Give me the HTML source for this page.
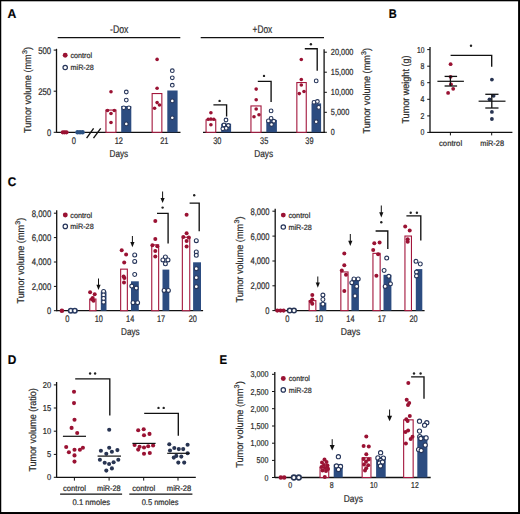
<!DOCTYPE html>
<html><head><meta charset="utf-8"><style>
html,body{margin:0;padding:0;background:#fff;}
svg{display:block;}
text{text-rendering:geometricPrecision;font-family:"Liberation Sans", sans-serif;stroke:#2e2e2e;stroke-width:0.22px;}
</style></head><body>
<svg width="520" height="514" viewBox="0 0 520 514">
<rect x="0" y="0" width="520" height="514" fill="#fff"/>
<text x="7.5" y="17.5" font-size="12.6" fill="#000" font-weight="bold" textLength="8.80" lengthAdjust="spacingAndGlyphs">A</text>
<text x="388.7" y="17.5" font-size="12.6" fill="#000" font-weight="bold" textLength="8.00" lengthAdjust="spacingAndGlyphs">B</text>
<text x="7.8" y="185.5" font-size="12.6" fill="#000" font-weight="bold" textLength="8.50" lengthAdjust="spacingAndGlyphs">C</text>
<text x="7.7" y="363.8" font-size="12.6" fill="#000" font-weight="bold" textLength="8.60" lengthAdjust="spacingAndGlyphs">D</text>
<text x="219.5" y="363.9" font-size="12.6" fill="#000" font-weight="bold" textLength="7.60" lengthAdjust="spacingAndGlyphs">E</text>
<line x1="56.5" y1="48.8" x2="56.5" y2="132.8" stroke="#111" stroke-width="1.3"/>
<line x1="53.7" y1="50.1" x2="56.5" y2="50.1" stroke="#111" stroke-width="1.0"/>
<text x="38.2" y="53.556000000000004" font-size="9.6" fill="#2e2e2e" font-weight="normal" textLength="13.00" lengthAdjust="spacingAndGlyphs">500</text>
<line x1="53.7" y1="91.2" x2="56.5" y2="91.2" stroke="#111" stroke-width="1.0"/>
<text x="38.2" y="94.656" font-size="9.6" fill="#2e2e2e" font-weight="normal" textLength="13.00" lengthAdjust="spacingAndGlyphs">250</text>
<line x1="53.7" y1="132.3" x2="56.5" y2="132.3" stroke="#111" stroke-width="1.0"/>
<text x="47.0" y="135.756" font-size="9.6" fill="#2e2e2e" font-weight="normal" textLength="4.20" lengthAdjust="spacingAndGlyphs">0</text>
<line x1="56.5" y1="132.3" x2="180.5" y2="132.3" stroke="#111" stroke-width="1.3"/>
<line x1="86.6" y1="138.2" x2="93.6" y2="128.4" stroke="#111" stroke-width="1.35"/>
<line x1="93.5" y1="138.2" x2="100.7" y2="128.4" stroke="#111" stroke-width="1.35"/>
<line x1="57.7" y1="37.6" x2="180.3" y2="37.6" stroke="#111" stroke-width="1.3"/>
<text x="110.0" y="33.0" font-size="11.0" fill="#2e2e2e" font-weight="normal" textLength="18.40" lengthAdjust="spacingAndGlyphs">-Dox</text>
<circle cx="65.2" cy="55.3" r="2.45" fill="#9a1233"/>
<circle cx="65.2" cy="67.5" r="2.2" fill="#fff" stroke="#26355a" stroke-width="1.2"/>
<text x="70.5" y="58.071999999999996" font-size="7.7" fill="#2e2e2e" font-weight="normal" textLength="21.50" lengthAdjust="spacingAndGlyphs">control</text>
<text x="70.5" y="70.272" font-size="7.7" fill="#2e2e2e" font-weight="normal" textLength="23.30" lengthAdjust="spacingAndGlyphs">miR-28</text>
<circle cx="62.8" cy="132.3" r="2.15" fill="#9a1233"/>
<circle cx="64.6" cy="132.3" r="2.15" fill="#9a1233"/>
<circle cx="66.5" cy="132.3" r="2.15" fill="#9a1233"/>
<circle cx="77.5" cy="132.3" r="2.2" fill="#2d5282"/>
<circle cx="80.0" cy="132.3" r="2.2" fill="#2d5282"/>
<circle cx="82.6" cy="132.3" r="2.2" fill="#2d5282"/>
<rect x="105.95" y="110.05" width="9.999999999999995" height="22.25000000000001" fill="#fff" stroke="#a3163c" stroke-width="1.1"/>
<rect x="121.2" y="106.0" width="10.100000000000009" height="26.30000000000001" fill="#2c4c80"/>
<circle cx="111" cy="91.8" r="1.8" fill="#9a1233"/>
<circle cx="107.5" cy="110.5" r="1.8" fill="#9a1233"/>
<circle cx="114.3" cy="110.5" r="1.8" fill="#9a1233"/>
<circle cx="111" cy="113.5" r="1.8" fill="#9a1233"/>
<circle cx="111" cy="122.5" r="1.8" fill="#9a1233"/>
<circle cx="126.3" cy="92" r="1.85" fill="#fff" stroke="#26355a" stroke-width="1.1"/>
<circle cx="126.3" cy="100.1" r="1.85" fill="#fff" stroke="#26355a" stroke-width="1.1"/>
<circle cx="123.7" cy="107.8" r="1.85" fill="#fff" stroke="#26355a" stroke-width="1.1"/>
<circle cx="128.9" cy="107.8" r="1.85" fill="#fff" stroke="#26355a" stroke-width="1.1"/>
<circle cx="126.3" cy="123.9" r="1.85" fill="#fff" stroke="#26355a" stroke-width="1.1"/>
<rect x="152.15" y="93.55" width="9.700000000000012" height="38.750000000000014" fill="#fff" stroke="#a3163c" stroke-width="1.1"/>
<rect x="167.3" y="90.5" width="10.299999999999983" height="41.80000000000001" fill="#2c4c80"/>
<circle cx="157.1" cy="59.4" r="1.8" fill="#9a1233"/>
<circle cx="157.1" cy="88.3" r="1.8" fill="#9a1233"/>
<circle cx="157.1" cy="102.6" r="1.8" fill="#9a1233"/>
<circle cx="159.5" cy="105" r="1.8" fill="#9a1233"/>
<circle cx="154.6" cy="108.2" r="1.8" fill="#9a1233"/>
<circle cx="172.3" cy="70.7" r="1.85" fill="#fff" stroke="#26355a" stroke-width="1.1"/>
<circle cx="172.3" cy="77.8" r="1.85" fill="#fff" stroke="#26355a" stroke-width="1.1"/>
<circle cx="172.3" cy="85.2" r="1.85" fill="#fff" stroke="#26355a" stroke-width="1.1"/>
<circle cx="172.3" cy="100.9" r="1.85" fill="#fff" stroke="#26355a" stroke-width="1.1"/>
<circle cx="172.3" cy="117.8" r="1.85" fill="#fff" stroke="#26355a" stroke-width="1.1"/>
<text x="71.7" y="143.756" font-size="9.6" fill="#2e2e2e" font-weight="normal" textLength="4.20" lengthAdjust="spacingAndGlyphs">0</text>
<text x="114.7" y="143.756" font-size="9.6" fill="#2e2e2e" font-weight="normal" textLength="8.20" lengthAdjust="spacingAndGlyphs">12</text>
<text x="160.20000000000002" y="143.756" font-size="9.6" fill="#2e2e2e" font-weight="normal" textLength="8.20" lengthAdjust="spacingAndGlyphs">21</text>
<text x="109.6" y="156.5" font-size="10.0" fill="#2e2e2e" font-weight="normal" textLength="18.60" lengthAdjust="spacingAndGlyphs">Days</text>
<g transform="translate(31.0,133.0) rotate(-90)"><text x="0" y="0" font-size="10.0" fill="#2e2e2e" textLength="78.70" lengthAdjust="spacingAndGlyphs">Tumor volume (mm</text><text x="79.00" y="-3.60" font-size="6.80" fill="#2e2e2e" textLength="3.97" lengthAdjust="spacingAndGlyphs">3</text><text x="83.07" y="0" font-size="10.0" fill="#2e2e2e" textLength="3.13" lengthAdjust="spacingAndGlyphs">)</text></g>
<line x1="203.0" y1="132.3" x2="325.0" y2="132.3" stroke="#111" stroke-width="1.3"/>
<line x1="200.7" y1="37.6" x2="324.0" y2="37.6" stroke="#111" stroke-width="1.3"/>
<text x="252.6" y="33.0" font-size="11.0" fill="#2e2e2e" font-weight="normal" textLength="19.70" lengthAdjust="spacingAndGlyphs">+Dox</text>
<rect x="206.05" y="119.85" width="9.700000000000012" height="12.450000000000014" fill="#fff" stroke="#a3163c" stroke-width="1.1"/>
<rect x="221.2" y="123.7" width="9.900000000000006" height="8.600000000000009" fill="#2c4c80"/>
<circle cx="210.9" cy="112.7" r="1.8" fill="#9a1233"/>
<circle cx="208.2" cy="119.3" r="1.8" fill="#9a1233"/>
<circle cx="213.8" cy="119.3" r="1.8" fill="#9a1233"/>
<circle cx="210.9" cy="119.0" r="1.8" fill="#9a1233"/>
<circle cx="210.9" cy="124.8" r="1.8" fill="#9a1233"/>
<circle cx="226" cy="120" r="1.85" fill="#fff" stroke="#26355a" stroke-width="1.1"/>
<circle cx="224.0" cy="125.0" r="1.85" fill="#fff" stroke="#26355a" stroke-width="1.1"/>
<circle cx="228.3" cy="125.5" r="1.85" fill="#fff" stroke="#26355a" stroke-width="1.1"/>
<circle cx="226.2" cy="128.3" r="1.85" fill="#fff" stroke="#26355a" stroke-width="1.1"/>
<circle cx="222.8" cy="128.8" r="1.85" fill="#fff" stroke="#26355a" stroke-width="1.1"/>
<polyline points="213.4,104.9 226.6,104.9 226.6,116.6" fill="none" stroke="#111" stroke-width="1.35"/>
<circle cx="219.6" cy="100.9" r="1.2" fill="#222"/>
<rect x="250.95000000000002" y="105.95" width="10.100000000000017" height="26.350000000000005" fill="#fff" stroke="#a3163c" stroke-width="1.1"/>
<rect x="266.3" y="119.9" width="10.599999999999966" height="12.400000000000006" fill="#2c4c80"/>
<circle cx="256.2" cy="89.1" r="1.8" fill="#9a1233"/>
<circle cx="256.2" cy="99.7" r="1.8" fill="#9a1233"/>
<circle cx="256.2" cy="109" r="1.8" fill="#9a1233"/>
<circle cx="254" cy="116.8" r="1.8" fill="#9a1233"/>
<circle cx="259" cy="114.7" r="1.8" fill="#9a1233"/>
<circle cx="271.1" cy="110.9" r="1.85" fill="#fff" stroke="#26355a" stroke-width="1.1"/>
<circle cx="271.1" cy="118.3" r="1.85" fill="#fff" stroke="#26355a" stroke-width="1.1"/>
<circle cx="268.4" cy="120.9" r="1.85" fill="#fff" stroke="#26355a" stroke-width="1.1"/>
<circle cx="273.8" cy="121.2" r="1.85" fill="#fff" stroke="#26355a" stroke-width="1.1"/>
<circle cx="271.5" cy="124.5" r="1.85" fill="#fff" stroke="#26355a" stroke-width="1.1"/>
<polyline points="257.8,81.3 271.1,81.3 271.1,102" fill="none" stroke="#111" stroke-width="1.35"/>
<circle cx="264" cy="75.9" r="1.2" fill="#222"/>
<rect x="296.85" y="82.55" width="9.4" height="49.750000000000014" fill="#fff" stroke="#a3163c" stroke-width="1.1"/>
<rect x="311.5" y="103.4" width="9.600000000000023" height="28.900000000000006" fill="#2c4c80"/>
<circle cx="301.3" cy="59.5" r="1.8" fill="#9a1233"/>
<circle cx="301.3" cy="79.5" r="1.8" fill="#9a1233"/>
<circle cx="301.3" cy="85" r="1.8" fill="#9a1233"/>
<circle cx="299.3" cy="93.6" r="1.8" fill="#9a1233"/>
<circle cx="304" cy="91.5" r="1.8" fill="#9a1233"/>
<circle cx="316.2" cy="80.9" r="1.85" fill="#fff" stroke="#26355a" stroke-width="1.1"/>
<circle cx="314.0" cy="102.3" r="1.85" fill="#fff" stroke="#26355a" stroke-width="1.1"/>
<circle cx="317.4" cy="101.5" r="1.85" fill="#fff" stroke="#26355a" stroke-width="1.1"/>
<circle cx="318.7" cy="107.4" r="1.85" fill="#fff" stroke="#26355a" stroke-width="1.1"/>
<circle cx="316.2" cy="121.7" r="1.85" fill="#fff" stroke="#26355a" stroke-width="1.1"/>
<polyline points="304.8,48.7 317.2,48.7 317.2,70.7" fill="none" stroke="#111" stroke-width="1.35"/>
<circle cx="310.9" cy="44.2" r="1.2" fill="#222"/>
<line x1="324.1" y1="49.3" x2="324.1" y2="132.8" stroke="#111" stroke-width="1.3"/>
<line x1="324.1" y1="52.2" x2="326.9" y2="52.2" stroke="#111" stroke-width="1.0"/>
<text x="330.8" y="55.368" font-size="8.8" fill="#2e2e2e" font-weight="normal" textLength="22.60" lengthAdjust="spacingAndGlyphs">20,000</text>
<line x1="324.1" y1="72.2" x2="326.9" y2="72.2" stroke="#111" stroke-width="1.0"/>
<text x="330.8" y="75.36800000000001" font-size="8.8" fill="#2e2e2e" font-weight="normal" textLength="22.60" lengthAdjust="spacingAndGlyphs">15,000</text>
<line x1="324.1" y1="92.3" x2="326.9" y2="92.3" stroke="#111" stroke-width="1.0"/>
<text x="330.8" y="95.468" font-size="8.8" fill="#2e2e2e" font-weight="normal" textLength="22.60" lengthAdjust="spacingAndGlyphs">10,000</text>
<line x1="324.1" y1="112.3" x2="326.9" y2="112.3" stroke="#111" stroke-width="1.0"/>
<text x="330.8" y="115.468" font-size="8.8" fill="#2e2e2e" font-weight="normal" textLength="18.50" lengthAdjust="spacingAndGlyphs">5,000</text>
<line x1="324.1" y1="132.3" x2="326.9" y2="132.3" stroke="#111" stroke-width="1.0"/>
<text x="330.8" y="135.46800000000002" font-size="8.8" fill="#2e2e2e" font-weight="normal" textLength="4.00" lengthAdjust="spacingAndGlyphs">0</text>
<text x="213.20000000000002" y="143.756" font-size="9.6" fill="#2e2e2e" font-weight="normal" textLength="8.20" lengthAdjust="spacingAndGlyphs">30</text>
<text x="260.09999999999997" y="143.756" font-size="9.6" fill="#2e2e2e" font-weight="normal" textLength="8.20" lengthAdjust="spacingAndGlyphs">35</text>
<text x="305.29999999999995" y="143.756" font-size="9.6" fill="#2e2e2e" font-weight="normal" textLength="8.20" lengthAdjust="spacingAndGlyphs">39</text>
<text x="254.2" y="156.5" font-size="10.0" fill="#2e2e2e" font-weight="normal" textLength="18.90" lengthAdjust="spacingAndGlyphs">Days</text>
<g transform="translate(369.8,133.5) rotate(-90)"><text x="0" y="0" font-size="10.0" fill="#2e2e2e" textLength="78.24" lengthAdjust="spacingAndGlyphs">Tumor volume (mm</text><text x="78.54" y="-3.60" font-size="6.80" fill="#2e2e2e" textLength="3.94" lengthAdjust="spacingAndGlyphs">3</text><text x="82.59" y="0" font-size="10.0" fill="#2e2e2e" textLength="3.11" lengthAdjust="spacingAndGlyphs">)</text></g>
<line x1="430.0" y1="47.0" x2="430.0" y2="132.9" stroke="#111" stroke-width="1.3"/>
<line x1="427.2" y1="49.6" x2="430.0" y2="49.6" stroke="#111" stroke-width="1.0"/>
<text x="416.9" y="52.696" font-size="8.6" fill="#2e2e2e" font-weight="normal" textLength="7.50" lengthAdjust="spacingAndGlyphs">10</text>
<line x1="427.2" y1="66.2" x2="430.0" y2="66.2" stroke="#111" stroke-width="1.0"/>
<text x="420.5" y="69.296" font-size="8.6" fill="#2e2e2e" font-weight="normal" textLength="3.90" lengthAdjust="spacingAndGlyphs">8</text>
<line x1="427.2" y1="82.7" x2="430.0" y2="82.7" stroke="#111" stroke-width="1.0"/>
<text x="420.5" y="85.796" font-size="8.6" fill="#2e2e2e" font-weight="normal" textLength="3.90" lengthAdjust="spacingAndGlyphs">6</text>
<line x1="427.2" y1="99.3" x2="430.0" y2="99.3" stroke="#111" stroke-width="1.0"/>
<text x="420.5" y="102.396" font-size="8.6" fill="#2e2e2e" font-weight="normal" textLength="3.90" lengthAdjust="spacingAndGlyphs">4</text>
<line x1="427.2" y1="115.9" x2="430.0" y2="115.9" stroke="#111" stroke-width="1.0"/>
<text x="420.5" y="118.99600000000001" font-size="8.6" fill="#2e2e2e" font-weight="normal" textLength="3.90" lengthAdjust="spacingAndGlyphs">2</text>
<line x1="427.2" y1="132.4" x2="430.0" y2="132.4" stroke="#111" stroke-width="1.0"/>
<text x="420.5" y="135.496" font-size="8.6" fill="#2e2e2e" font-weight="normal" textLength="3.90" lengthAdjust="spacingAndGlyphs">0</text>
<line x1="430.0" y1="132.4" x2="512.4" y2="132.4" stroke="#111" stroke-width="1.3"/>
<line x1="450.4" y1="132.4" x2="450.4" y2="135.4" stroke="#111" stroke-width="1.0"/>
<line x1="491.7" y1="132.4" x2="491.7" y2="135.4" stroke="#111" stroke-width="1.0"/>
<text x="439.0" y="145.9" font-size="8.0" fill="#2e2e2e" font-weight="normal" textLength="23.10" lengthAdjust="spacingAndGlyphs">control</text>
<text x="480.3" y="145.9" font-size="8.0" fill="#2e2e2e" font-weight="normal" textLength="23.70" lengthAdjust="spacingAndGlyphs">miR-28</text>
<g transform="translate(409.2,123.6) rotate(-90)"><text x="0" y="0" font-size="10.0" fill="#2e2e2e" textLength="68.10" lengthAdjust="spacingAndGlyphs">Tumor weight (g)</text></g>
<circle cx="450.6" cy="64.2" r="1.9" fill="#9a1233"/>
<circle cx="450.6" cy="76.8" r="1.9" fill="#9a1233"/>
<circle cx="451" cy="84.3" r="1.9" fill="#9a1233"/>
<circle cx="453.2" cy="88.8" r="1.9" fill="#9a1233"/>
<circle cx="448.1" cy="92.9" r="1.9" fill="#9a1233"/>
<circle cx="491.9" cy="79.6" r="1.9" fill="#283452"/>
<circle cx="493.6" cy="95.8" r="1.9" fill="#283452"/>
<circle cx="489.5" cy="99.3" r="1.9" fill="#283452"/>
<circle cx="491.9" cy="111.9" r="1.9" fill="#283452"/>
<circle cx="491.9" cy="119.0" r="1.9" fill="#283452"/>
<line x1="437.4" y1="81.3" x2="463.9" y2="81.3" stroke="#111" stroke-width="1.2"/>
<line x1="450.4" y1="76.4" x2="450.4" y2="86.0" stroke="#111" stroke-width="1.3"/>
<line x1="444.6" y1="76.4" x2="457.1" y2="76.4" stroke="#111" stroke-width="1.3"/>
<line x1="444.6" y1="86.0" x2="457.1" y2="86.0" stroke="#111" stroke-width="1.3"/>
<line x1="478.6" y1="101.2" x2="505.5" y2="101.2" stroke="#111" stroke-width="1.2"/>
<line x1="491.8" y1="94.3" x2="491.8" y2="108.0" stroke="#111" stroke-width="1.3"/>
<line x1="485.3" y1="94.3" x2="498.5" y2="94.3" stroke="#111" stroke-width="1.3"/>
<line x1="485.3" y1="108.0" x2="498.5" y2="108.0" stroke="#111" stroke-width="1.3"/>
<polyline points="450.6,55.4 491.7,55.4 491.7,66.7" fill="none" stroke="#111" stroke-width="1.35"/>
<circle cx="471" cy="45.8" r="1.2" fill="#222"/>
<line x1="56.7" y1="210.3" x2="56.7" y2="311.2" stroke="#111" stroke-width="1.3"/>
<line x1="53.900000000000006" y1="213.2" x2="56.7" y2="213.2" stroke="#111" stroke-width="1.0"/>
<text x="31.800000000000004" y="216.65599999999998" font-size="9.6" fill="#2e2e2e" font-weight="normal" textLength="19.40" lengthAdjust="spacingAndGlyphs">8,000</text>
<line x1="53.900000000000006" y1="237.6" x2="56.7" y2="237.6" stroke="#111" stroke-width="1.0"/>
<text x="31.800000000000004" y="241.05599999999998" font-size="9.6" fill="#2e2e2e" font-weight="normal" textLength="19.40" lengthAdjust="spacingAndGlyphs">6,000</text>
<line x1="53.900000000000006" y1="262.0" x2="56.7" y2="262.0" stroke="#111" stroke-width="1.0"/>
<text x="31.800000000000004" y="265.456" font-size="9.6" fill="#2e2e2e" font-weight="normal" textLength="19.40" lengthAdjust="spacingAndGlyphs">4,000</text>
<line x1="53.900000000000006" y1="286.4" x2="56.7" y2="286.4" stroke="#111" stroke-width="1.0"/>
<text x="31.800000000000004" y="289.856" font-size="9.6" fill="#2e2e2e" font-weight="normal" textLength="19.40" lengthAdjust="spacingAndGlyphs">2,000</text>
<line x1="53.900000000000006" y1="310.7" x2="56.7" y2="310.7" stroke="#111" stroke-width="1.0"/>
<text x="47.0" y="314.156" font-size="9.6" fill="#2e2e2e" font-weight="normal" textLength="4.20" lengthAdjust="spacingAndGlyphs">0</text>
<line x1="56.7" y1="310.7" x2="203.1" y2="310.7" stroke="#111" stroke-width="1.3"/>
<circle cx="65.3" cy="215.0" r="2.45" fill="#9a1233"/>
<circle cx="65.3" cy="226.4" r="2.2" fill="#fff" stroke="#26355a" stroke-width="1.2"/>
<text x="70.3" y="217.772" font-size="7.7" fill="#2e2e2e" font-weight="normal" textLength="21.80" lengthAdjust="spacingAndGlyphs">control</text>
<text x="70.3" y="229.172" font-size="7.7" fill="#2e2e2e" font-weight="normal" textLength="23.40" lengthAdjust="spacingAndGlyphs">miR-28</text>
<circle cx="61.9" cy="310.7" r="2.3" fill="#9a1233"/>
<circle cx="70.8" cy="310.7" r="2.25" fill="#fff" stroke="#283a62" stroke-width="1.6"/>
<circle cx="74.8" cy="310.7" r="2.25" fill="#fff" stroke="#283a62" stroke-width="1.6"/>
<rect x="89.75" y="299.05" width="6.1999999999999975" height="11.649999999999988" fill="#fff" stroke="#a3163c" stroke-width="1.1"/>
<rect x="100.8" y="291.5" width="5.700000000000003" height="19.19999999999999" fill="#2c4c80"/>
<circle cx="90.1" cy="292.3" r="2.0" fill="#9a1233"/>
<circle cx="94.7" cy="294.3" r="2.0" fill="#9a1233"/>
<circle cx="92.7" cy="298" r="2.0" fill="#9a1233"/>
<circle cx="93.5" cy="300.8" r="2.0" fill="#9a1233"/>
<circle cx="91.9" cy="299.2" r="2.0" fill="#9a1233"/>
<circle cx="103.6" cy="291.5" r="1.95" fill="#fff" stroke="#26355a" stroke-width="1.1"/>
<circle cx="103.6" cy="295.0" r="1.95" fill="#fff" stroke="#26355a" stroke-width="1.1"/>
<circle cx="103.6" cy="298.5" r="1.95" fill="#fff" stroke="#26355a" stroke-width="1.1"/>
<circle cx="103.6" cy="302.2" r="1.95" fill="#fff" stroke="#26355a" stroke-width="1.1"/>
<line x1="98.5" y1="278.5" x2="98.5" y2="285.8" stroke="#111" stroke-width="1.0"/>
<polygon points="96.4,284.8 100.6,284.8 98.5,290.0" fill="#111"/>
<rect x="120.64999999999999" y="269.15000000000003" width="6.700000000000012" height="41.54999999999997" fill="#fff" stroke="#a3163c" stroke-width="1.1"/>
<rect x="131.0" y="281.3" width="7.800000000000011" height="29.399999999999977" fill="#2c4c80"/>
<circle cx="121.7" cy="250.2" r="2.0" fill="#9a1233"/>
<circle cx="126.1" cy="254.6" r="2.0" fill="#9a1233"/>
<circle cx="124.2" cy="262.4" r="2.0" fill="#9a1233"/>
<circle cx="123.6" cy="276.4" r="2.0" fill="#9a1233"/>
<circle cx="124.4" cy="278" r="2.0" fill="#9a1233"/>
<circle cx="124" cy="282.6" r="2.0" fill="#9a1233"/>
<circle cx="134.7" cy="255" r="1.95" fill="#fff" stroke="#26355a" stroke-width="1.1"/>
<circle cx="134.7" cy="261.4" r="1.95" fill="#fff" stroke="#26355a" stroke-width="1.1"/>
<circle cx="134.7" cy="274.5" r="1.95" fill="#fff" stroke="#26355a" stroke-width="1.1"/>
<circle cx="131.8" cy="286.1" r="1.95" fill="#fff" stroke="#26355a" stroke-width="1.1"/>
<circle cx="136.3" cy="288.1" r="1.95" fill="#fff" stroke="#26355a" stroke-width="1.1"/>
<circle cx="133" cy="302.7" r="1.95" fill="#fff" stroke="#26355a" stroke-width="1.1"/>
<circle cx="137.6" cy="302.7" r="1.95" fill="#fff" stroke="#26355a" stroke-width="1.1"/>
<line x1="132.4" y1="236.0" x2="132.4" y2="243.0" stroke="#111" stroke-width="1.0"/>
<polygon points="130.3,242.0 134.5,242.0 132.4,247.2" fill="#111"/>
<rect x="151.75" y="244.85000000000002" width="6.9" height="65.84999999999998" fill="#fff" stroke="#a3163c" stroke-width="1.1"/>
<rect x="162.5" y="269.6" width="6.800000000000011" height="41.099999999999966" fill="#2c4c80"/>
<circle cx="155.3" cy="221" r="2.0" fill="#9a1233"/>
<circle cx="155.3" cy="239.1" r="2.0" fill="#9a1233"/>
<circle cx="152.4" cy="245.3" r="2.0" fill="#9a1233"/>
<circle cx="157.3" cy="246.3" r="2.0" fill="#9a1233"/>
<circle cx="155.3" cy="251.1" r="2.0" fill="#9a1233"/>
<circle cx="155.3" cy="256.4" r="2.0" fill="#9a1233"/>
<circle cx="165.4" cy="257" r="1.95" fill="#fff" stroke="#26355a" stroke-width="1.1"/>
<circle cx="162.9" cy="259.9" r="1.95" fill="#fff" stroke="#26355a" stroke-width="1.1"/>
<circle cx="168" cy="259.9" r="1.95" fill="#fff" stroke="#26355a" stroke-width="1.1"/>
<circle cx="165.4" cy="263.8" r="1.95" fill="#fff" stroke="#26355a" stroke-width="1.1"/>
<circle cx="164.1" cy="290.4" r="1.95" fill="#fff" stroke="#26355a" stroke-width="1.1"/>
<circle cx="168.4" cy="290.4" r="1.95" fill="#fff" stroke="#26355a" stroke-width="1.1"/>
<line x1="162.6" y1="191.5" x2="162.6" y2="198.9" stroke="#111" stroke-width="1.0"/>
<polygon points="160.5,197.9 164.7,197.9 162.6,203.1" fill="#111"/>
<circle cx="162.6" cy="207.6" r="1.2" fill="#222"/>
<polyline points="157,213.3 168.1,213.3 168.1,243.6" fill="none" stroke="#111" stroke-width="1.35"/>
<rect x="182.35000000000002" y="237.25" width="7.4" height="73.45" fill="#fff" stroke="#a3163c" stroke-width="1.1"/>
<rect x="193.1" y="262.3" width="7.900000000000006" height="48.39999999999998" fill="#2c4c80"/>
<circle cx="186.6" cy="214.7" r="2.0" fill="#9a1233"/>
<circle cx="186.6" cy="233.2" r="2.0" fill="#9a1233"/>
<circle cx="183.3" cy="237" r="2.0" fill="#9a1233"/>
<circle cx="188.8" cy="237.5" r="2.0" fill="#9a1233"/>
<circle cx="186.6" cy="241.1" r="2.0" fill="#9a1233"/>
<circle cx="186.6" cy="246.4" r="2.0" fill="#9a1233"/>
<circle cx="196.3" cy="240.7" r="1.95" fill="#fff" stroke="#26355a" stroke-width="1.1"/>
<circle cx="196.3" cy="252" r="1.95" fill="#fff" stroke="#26355a" stroke-width="1.1"/>
<circle cx="196.3" cy="255.3" r="1.95" fill="#fff" stroke="#26355a" stroke-width="1.1"/>
<circle cx="196.3" cy="268.7" r="1.95" fill="#fff" stroke="#26355a" stroke-width="1.1"/>
<circle cx="196.3" cy="277.7" r="1.95" fill="#fff" stroke="#26355a" stroke-width="1.1"/>
<circle cx="196.3" cy="286.7" r="1.95" fill="#fff" stroke="#26355a" stroke-width="1.1"/>
<circle cx="194.2" cy="195.2" r="1.2" fill="#222"/>
<polyline points="189.6,203.1 199.2,203.1 199.2,231.2" fill="none" stroke="#111" stroke-width="1.35"/>
<text x="65.2" y="322.05600000000004" font-size="9.6" fill="#2e2e2e" font-weight="normal" textLength="4.20" lengthAdjust="spacingAndGlyphs">0</text>
<text x="94.7" y="322.05600000000004" font-size="9.6" fill="#2e2e2e" font-weight="normal" textLength="8.20" lengthAdjust="spacingAndGlyphs">10</text>
<text x="126.1" y="322.05600000000004" font-size="9.6" fill="#2e2e2e" font-weight="normal" textLength="8.20" lengthAdjust="spacingAndGlyphs">14</text>
<text x="156.9" y="322.05600000000004" font-size="9.6" fill="#2e2e2e" font-weight="normal" textLength="8.20" lengthAdjust="spacingAndGlyphs">17</text>
<text x="188.70000000000002" y="322.05600000000004" font-size="9.6" fill="#2e2e2e" font-weight="normal" textLength="8.20" lengthAdjust="spacingAndGlyphs">20</text>
<text x="121.0" y="335.3" font-size="10.0" fill="#2e2e2e" font-weight="normal" textLength="18.60" lengthAdjust="spacingAndGlyphs">Days</text>
<g transform="translate(23.8,303.4) rotate(-90)"><text x="0" y="0" font-size="10.0" fill="#2e2e2e" textLength="78.43" lengthAdjust="spacingAndGlyphs">Tumor volume (mm</text><text x="78.73" y="-3.60" font-size="6.80" fill="#2e2e2e" textLength="3.95" lengthAdjust="spacingAndGlyphs">3</text><text x="82.78" y="0" font-size="10.0" fill="#2e2e2e" textLength="3.12" lengthAdjust="spacingAndGlyphs">)</text></g>
<line x1="275.2" y1="208.7" x2="275.2" y2="311.1" stroke="#111" stroke-width="1.3"/>
<line x1="272.4" y1="211.2" x2="275.2" y2="211.2" stroke="#111" stroke-width="1.0"/>
<text x="250.4" y="214.65599999999998" font-size="9.6" fill="#2e2e2e" font-weight="normal" textLength="19.10" lengthAdjust="spacingAndGlyphs">8,000</text>
<line x1="272.4" y1="236.1" x2="275.2" y2="236.1" stroke="#111" stroke-width="1.0"/>
<text x="250.4" y="239.55599999999998" font-size="9.6" fill="#2e2e2e" font-weight="normal" textLength="19.10" lengthAdjust="spacingAndGlyphs">6,000</text>
<line x1="272.4" y1="261.0" x2="275.2" y2="261.0" stroke="#111" stroke-width="1.0"/>
<text x="250.4" y="264.456" font-size="9.6" fill="#2e2e2e" font-weight="normal" textLength="19.10" lengthAdjust="spacingAndGlyphs">4,000</text>
<line x1="272.4" y1="285.8" x2="275.2" y2="285.8" stroke="#111" stroke-width="1.0"/>
<text x="250.4" y="289.25600000000003" font-size="9.6" fill="#2e2e2e" font-weight="normal" textLength="19.10" lengthAdjust="spacingAndGlyphs">2,000</text>
<line x1="272.4" y1="310.6" x2="275.2" y2="310.6" stroke="#111" stroke-width="1.0"/>
<text x="265.3" y="314.05600000000004" font-size="9.6" fill="#2e2e2e" font-weight="normal" textLength="4.20" lengthAdjust="spacingAndGlyphs">0</text>
<line x1="275.2" y1="310.6" x2="424.6" y2="310.6" stroke="#111" stroke-width="1.3"/>
<circle cx="283.3" cy="215.1" r="2.45" fill="#9a1233"/>
<circle cx="283.3" cy="227.0" r="2.2" fill="#fff" stroke="#26355a" stroke-width="1.2"/>
<text x="288.4" y="217.87199999999999" font-size="7.7" fill="#2e2e2e" font-weight="normal" textLength="21.90" lengthAdjust="spacingAndGlyphs">control</text>
<text x="288.4" y="229.772" font-size="7.7" fill="#2e2e2e" font-weight="normal" textLength="23.30" lengthAdjust="spacingAndGlyphs">miR-28</text>
<circle cx="277.3" cy="310.6" r="2.1" fill="#9a1233"/>
<circle cx="280.5" cy="310.6" r="2.1" fill="#9a1233"/>
<circle cx="283.6" cy="310.6" r="2.1" fill="#9a1233"/>
<circle cx="289.7" cy="310.6" r="2.25" fill="#fff" stroke="#283656" stroke-width="1.5"/>
<circle cx="294.0" cy="310.6" r="2.25" fill="#fff" stroke="#283656" stroke-width="1.5"/>
<rect x="309.15000000000003" y="300.65000000000003" width="6.699999999999955" height="9.95" fill="#fff" stroke="#a3163c" stroke-width="1.1"/>
<rect x="319.5" y="302.6" width="6.800000000000011" height="8.0" fill="#2c4c80"/>
<circle cx="312.3" cy="295.1" r="2.0" fill="#9a1233"/>
<circle cx="312.3" cy="299.5" r="2.0" fill="#9a1233"/>
<circle cx="310.8" cy="301.4" r="2.0" fill="#9a1233"/>
<circle cx="312.3" cy="303.7" r="2.0" fill="#9a1233"/>
<circle cx="322.9" cy="295.1" r="1.95" fill="#fff" stroke="#26355a" stroke-width="1.1"/>
<circle cx="322.9" cy="299.5" r="1.95" fill="#fff" stroke="#26355a" stroke-width="1.1"/>
<circle cx="322.9" cy="304.2" r="1.95" fill="#fff" stroke="#26355a" stroke-width="1.1"/>
<line x1="317.8" y1="276.5" x2="317.8" y2="283.6" stroke="#111" stroke-width="1.0"/>
<polygon points="315.7,282.6 319.90000000000003,282.6 317.8,287.8" fill="#111"/>
<rect x="340.85" y="271.95" width="7.200000000000012" height="38.65000000000005" fill="#fff" stroke="#a3163c" stroke-width="1.1"/>
<rect x="351.4" y="279.5" width="7.5" height="31.100000000000023" fill="#2c4c80"/>
<circle cx="344.3" cy="253.4" r="2.0" fill="#9a1233"/>
<circle cx="344.3" cy="265.2" r="2.0" fill="#9a1233"/>
<circle cx="341.8" cy="270.5" r="2.0" fill="#9a1233"/>
<circle cx="346" cy="274.8" r="2.0" fill="#9a1233"/>
<circle cx="344.3" cy="290.9" r="2.0" fill="#9a1233"/>
<circle cx="354" cy="278.9" r="1.95" fill="#fff" stroke="#26355a" stroke-width="1.1"/>
<circle cx="358.2" cy="278.9" r="1.95" fill="#fff" stroke="#26355a" stroke-width="1.1"/>
<circle cx="351.8" cy="282.7" r="1.95" fill="#fff" stroke="#26355a" stroke-width="1.1"/>
<circle cx="356.7" cy="286.4" r="1.95" fill="#fff" stroke="#26355a" stroke-width="1.1"/>
<circle cx="355" cy="296" r="1.95" fill="#fff" stroke="#26355a" stroke-width="1.1"/>
<line x1="350.3" y1="234.0" x2="350.3" y2="241.70000000000002" stroke="#111" stroke-width="1.0"/>
<polygon points="348.2,240.70000000000002 352.40000000000003,240.70000000000002 350.3,245.9" fill="#111"/>
<rect x="372.95" y="253.35000000000002" width="7.200000000000012" height="57.250000000000014" fill="#fff" stroke="#a3163c" stroke-width="1.1"/>
<rect x="383.5" y="274.8" width="7.899999999999977" height="35.80000000000001" fill="#2c4c80"/>
<circle cx="374.3" cy="243.2" r="2.0" fill="#9a1233"/>
<circle cx="379.6" cy="242.5" r="2.0" fill="#9a1233"/>
<circle cx="373.2" cy="250" r="2.0" fill="#9a1233"/>
<circle cx="378.1" cy="254.3" r="2.0" fill="#9a1233"/>
<circle cx="376.4" cy="275.7" r="2.0" fill="#9a1233"/>
<circle cx="386.7" cy="258.1" r="1.95" fill="#fff" stroke="#26355a" stroke-width="1.1"/>
<circle cx="384.1" cy="270.5" r="1.95" fill="#fff" stroke="#26355a" stroke-width="1.1"/>
<circle cx="388.8" cy="276.3" r="1.95" fill="#fff" stroke="#26355a" stroke-width="1.1"/>
<circle cx="390.5" cy="283.8" r="1.95" fill="#fff" stroke="#26355a" stroke-width="1.1"/>
<circle cx="385.2" cy="286.4" r="1.95" fill="#fff" stroke="#26355a" stroke-width="1.1"/>
<line x1="381.3" y1="205.5" x2="381.3" y2="213.3" stroke="#111" stroke-width="1.0"/>
<polygon points="379.2,212.3 383.40000000000003,212.3 381.3,217.5" fill="#111"/>
<circle cx="381.3" cy="222.2" r="1.2" fill="#222"/>
<polyline points="375.6,231 387.8,231 387.8,249.1" fill="none" stroke="#111" stroke-width="1.35"/>
<rect x="404.95" y="236.05" width="6.500000000000023" height="74.55000000000003" fill="#fff" stroke="#a3163c" stroke-width="1.1"/>
<rect x="415.8" y="269.1" width="6.5" height="41.5" fill="#2c4c80"/>
<circle cx="405.2" cy="226.6" r="2.0" fill="#9a1233"/>
<circle cx="409.7" cy="230.4" r="2.0" fill="#9a1233"/>
<circle cx="407.7" cy="239.3" r="2.0" fill="#9a1233"/>
<circle cx="407.7" cy="241.8" r="2.0" fill="#9a1233"/>
<circle cx="416" cy="261.3" r="1.95" fill="#fff" stroke="#26355a" stroke-width="1.1"/>
<circle cx="420.3" cy="264" r="1.95" fill="#fff" stroke="#26355a" stroke-width="1.1"/>
<circle cx="416.5" cy="272.1" r="1.95" fill="#fff" stroke="#26355a" stroke-width="1.1"/>
<circle cx="416.5" cy="275.9" r="1.95" fill="#fff" stroke="#26355a" stroke-width="1.1"/>
<circle cx="410.7" cy="212.7" r="1.2" fill="#222"/>
<circle cx="416.90000000000003" cy="212.7" r="1.2" fill="#222"/>
<polyline points="406.4,215.8 420.8,215.8 420.8,240.5" fill="none" stroke="#111" stroke-width="1.35"/>
<text x="285.2" y="322.156" font-size="9.6" fill="#2e2e2e" font-weight="normal" textLength="4.20" lengthAdjust="spacingAndGlyphs">0</text>
<text x="314.9" y="322.156" font-size="9.6" fill="#2e2e2e" font-weight="normal" textLength="8.20" lengthAdjust="spacingAndGlyphs">10</text>
<text x="346.29999999999995" y="322.156" font-size="9.6" fill="#2e2e2e" font-weight="normal" textLength="8.20" lengthAdjust="spacingAndGlyphs">14</text>
<text x="377.7" y="322.156" font-size="9.6" fill="#2e2e2e" font-weight="normal" textLength="8.20" lengthAdjust="spacingAndGlyphs">17</text>
<text x="409.4" y="322.156" font-size="9.6" fill="#2e2e2e" font-weight="normal" textLength="8.20" lengthAdjust="spacingAndGlyphs">20</text>
<text x="340.8" y="335.2" font-size="10.0" fill="#2e2e2e" font-weight="normal" textLength="19.60" lengthAdjust="spacingAndGlyphs">Days</text>
<g transform="translate(242.7,302.6) rotate(-90)"><text x="0" y="0" font-size="10.0" fill="#2e2e2e" textLength="78.70" lengthAdjust="spacingAndGlyphs">Tumor volume (mm</text><text x="79.00" y="-3.60" font-size="6.80" fill="#2e2e2e" textLength="3.97" lengthAdjust="spacingAndGlyphs">3</text><text x="83.07" y="0" font-size="10.0" fill="#2e2e2e" textLength="3.13" lengthAdjust="spacingAndGlyphs">)</text></g>
<line x1="56.6" y1="382.0" x2="56.6" y2="477.8" stroke="#111" stroke-width="1.3"/>
<line x1="53.800000000000004" y1="384.9" x2="56.6" y2="384.9" stroke="#111" stroke-width="1.0"/>
<text x="42.800000000000004" y="387.996" font-size="8.6" fill="#2e2e2e" font-weight="normal" textLength="8.40" lengthAdjust="spacingAndGlyphs">20</text>
<line x1="53.800000000000004" y1="408.0" x2="56.6" y2="408.0" stroke="#111" stroke-width="1.0"/>
<text x="42.800000000000004" y="411.096" font-size="8.6" fill="#2e2e2e" font-weight="normal" textLength="8.40" lengthAdjust="spacingAndGlyphs">15</text>
<line x1="53.800000000000004" y1="431.2" x2="56.6" y2="431.2" stroke="#111" stroke-width="1.0"/>
<text x="42.800000000000004" y="434.296" font-size="8.6" fill="#2e2e2e" font-weight="normal" textLength="8.40" lengthAdjust="spacingAndGlyphs">10</text>
<line x1="53.800000000000004" y1="454.4" x2="56.6" y2="454.4" stroke="#111" stroke-width="1.0"/>
<text x="47.0" y="457.496" font-size="8.6" fill="#2e2e2e" font-weight="normal" textLength="4.20" lengthAdjust="spacingAndGlyphs">5</text>
<line x1="53.800000000000004" y1="477.3" x2="56.6" y2="477.3" stroke="#111" stroke-width="1.0"/>
<text x="47.0" y="480.396" font-size="8.6" fill="#2e2e2e" font-weight="normal" textLength="4.20" lengthAdjust="spacingAndGlyphs">0</text>
<line x1="56.6" y1="477.3" x2="195.8" y2="477.3" stroke="#111" stroke-width="1.3"/>
<line x1="74.4" y1="477.3" x2="74.4" y2="480.6" stroke="#111" stroke-width="1.0"/>
<line x1="109.1" y1="477.3" x2="109.1" y2="480.6" stroke="#111" stroke-width="1.0"/>
<line x1="143.7" y1="477.3" x2="143.7" y2="480.6" stroke="#111" stroke-width="1.0"/>
<line x1="178.0" y1="477.3" x2="178.0" y2="480.6" stroke="#111" stroke-width="1.0"/>
<text x="63.0" y="491.3" font-size="8.0" fill="#2e2e2e" font-weight="normal" textLength="23.00" lengthAdjust="spacingAndGlyphs">control</text>
<text x="97.0" y="491.3" font-size="8.0" fill="#2e2e2e" font-weight="normal" textLength="23.70" lengthAdjust="spacingAndGlyphs">miR-28</text>
<text x="132.2" y="491.3" font-size="8.0" fill="#2e2e2e" font-weight="normal" textLength="23.10" lengthAdjust="spacingAndGlyphs">control</text>
<text x="166.8" y="491.3" font-size="8.0" fill="#2e2e2e" font-weight="normal" textLength="24.50" lengthAdjust="spacingAndGlyphs">miR-28</text>
<line x1="60.1" y1="494.2" x2="122.1" y2="494.2" stroke="#111" stroke-width="1.2"/>
<line x1="129.3" y1="494.2" x2="192.4" y2="494.2" stroke="#111" stroke-width="1.2"/>
<text x="72.5" y="504.6" font-size="8.2" fill="#2e2e2e" font-weight="normal" textLength="37.50" lengthAdjust="spacingAndGlyphs">0.1 nmoles</text>
<text x="141.7" y="504.6" font-size="8.2" fill="#2e2e2e" font-weight="normal" textLength="36.70" lengthAdjust="spacingAndGlyphs">0.5 nmoles</text>
<g transform="translate(35.6,471.6) rotate(-90)"><text x="0" y="0" font-size="10.0" fill="#2e2e2e" textLength="83.30" lengthAdjust="spacingAndGlyphs">Tumor volume (ratio)</text></g>
<circle cx="74" cy="391.7" r="2.05" fill="#9a1233"/>
<circle cx="74" cy="403.1" r="2.05" fill="#9a1233"/>
<circle cx="74.5" cy="419.8" r="2.05" fill="#9a1233"/>
<circle cx="71.6" cy="427.9" r="2.05" fill="#9a1233"/>
<circle cx="77.2" cy="433" r="2.05" fill="#9a1233"/>
<circle cx="66.2" cy="447" r="2.05" fill="#9a1233"/>
<circle cx="74.5" cy="449.7" r="2.05" fill="#9a1233"/>
<circle cx="79.9" cy="449.7" r="2.05" fill="#9a1233"/>
<circle cx="82.9" cy="447.7" r="2.05" fill="#9a1233"/>
<circle cx="68.9" cy="452.2" r="2.05" fill="#9a1233"/>
<circle cx="74.5" cy="455.4" r="2.05" fill="#9a1233"/>
<circle cx="74.5" cy="461.6" r="2.05" fill="#9a1233"/>
<circle cx="109.2" cy="429.7" r="2.05" fill="#283452"/>
<circle cx="109.2" cy="447.7" r="2.05" fill="#283452"/>
<circle cx="100.9" cy="450.8" r="2.05" fill="#283452"/>
<circle cx="117.4" cy="450.1" r="2.05" fill="#283452"/>
<circle cx="111.9" cy="451.8" r="2.05" fill="#283452"/>
<circle cx="106.3" cy="453.8" r="2.05" fill="#283452"/>
<circle cx="99.9" cy="459.7" r="2.05" fill="#283452"/>
<circle cx="118.3" cy="459.7" r="2.05" fill="#283452"/>
<circle cx="104.7" cy="462.7" r="2.05" fill="#283452"/>
<circle cx="109.1" cy="464" r="2.05" fill="#283452"/>
<circle cx="113.6" cy="462.3" r="2.05" fill="#283452"/>
<circle cx="111.9" cy="468.4" r="2.05" fill="#283452"/>
<circle cx="106.3" cy="470.6" r="2.05" fill="#283452"/>
<line x1="62.9" y1="436.3" x2="86.0" y2="436.3" stroke="#111" stroke-width="1.2"/>
<line x1="97.6" y1="456.1" x2="121.0" y2="456.1" stroke="#111" stroke-width="1.2"/>
<circle cx="138.2" cy="430.3" r="2.05" fill="#9a1233"/>
<circle cx="143.7" cy="429.3" r="2.05" fill="#9a1233"/>
<circle cx="149.5" cy="433.9" r="2.05" fill="#9a1233"/>
<circle cx="144" cy="435.2" r="2.05" fill="#9a1233"/>
<circle cx="134.6" cy="445" r="2.05" fill="#9a1233"/>
<circle cx="139.6" cy="446.8" r="2.05" fill="#9a1233"/>
<circle cx="144" cy="447.5" r="2.05" fill="#9a1233"/>
<circle cx="148.2" cy="446.3" r="2.05" fill="#9a1233"/>
<circle cx="153.1" cy="445.5" r="2.05" fill="#9a1233"/>
<circle cx="138.2" cy="449.6" r="2.05" fill="#9a1233"/>
<circle cx="144" cy="453.8" r="2.05" fill="#9a1233"/>
<circle cx="149.8" cy="453" r="2.05" fill="#9a1233"/>
<circle cx="169.3" cy="444.3" r="2.05" fill="#283452"/>
<circle cx="187.6" cy="444.7" r="2.05" fill="#283452"/>
<circle cx="174.3" cy="448" r="2.05" fill="#283452"/>
<circle cx="178.8" cy="449.1" r="2.05" fill="#283452"/>
<circle cx="183.2" cy="449.1" r="2.05" fill="#283452"/>
<circle cx="170" cy="450.5" r="2.05" fill="#283452"/>
<circle cx="187.6" cy="453.3" r="2.05" fill="#283452"/>
<circle cx="176.3" cy="455.9" r="2.05" fill="#283452"/>
<circle cx="181.3" cy="456.6" r="2.05" fill="#283452"/>
<circle cx="173.8" cy="457.6" r="2.05" fill="#283452"/>
<circle cx="178.3" cy="462.6" r="2.05" fill="#283452"/>
<circle cx="184.2" cy="462.6" r="2.05" fill="#283452"/>
<line x1="132.4" y1="443.4" x2="155.6" y2="443.4" stroke="#111" stroke-width="1.2"/>
<line x1="167.2" y1="453.3" x2="189.5" y2="453.3" stroke="#111" stroke-width="1.2"/>
<polyline points="75.2,378.8 109.8,378.8 109.8,415.5" fill="none" stroke="#111" stroke-width="1.35"/>
<circle cx="90.1" cy="373.5" r="1.2" fill="#222"/>
<circle cx="95.1" cy="373.5" r="1.2" fill="#222"/>
<polyline points="144.2,413.3 178.3,413.3 178.3,435.8" fill="none" stroke="#111" stroke-width="1.35"/>
<circle cx="158.5" cy="407.9" r="1.2" fill="#222"/>
<circle cx="163.7" cy="407.9" r="1.2" fill="#222"/>
<line x1="274.8" y1="372.0" x2="274.8" y2="478.0" stroke="#111" stroke-width="1.3"/>
<line x1="272.0" y1="374.3" x2="274.8" y2="374.3" stroke="#111" stroke-width="1.0"/>
<text x="250.39999999999998" y="377.396" font-size="8.6" fill="#2e2e2e" font-weight="normal" textLength="18.00" lengthAdjust="spacingAndGlyphs">3,000</text>
<line x1="272.0" y1="391.5" x2="274.8" y2="391.5" stroke="#111" stroke-width="1.0"/>
<text x="250.39999999999998" y="394.596" font-size="8.6" fill="#2e2e2e" font-weight="normal" textLength="18.00" lengthAdjust="spacingAndGlyphs">2,500</text>
<line x1="272.0" y1="408.7" x2="274.8" y2="408.7" stroke="#111" stroke-width="1.0"/>
<text x="250.39999999999998" y="411.796" font-size="8.6" fill="#2e2e2e" font-weight="normal" textLength="18.00" lengthAdjust="spacingAndGlyphs">2,000</text>
<line x1="272.0" y1="426.0" x2="274.8" y2="426.0" stroke="#111" stroke-width="1.0"/>
<text x="250.39999999999998" y="429.096" font-size="8.6" fill="#2e2e2e" font-weight="normal" textLength="18.00" lengthAdjust="spacingAndGlyphs">1,500</text>
<line x1="272.0" y1="443.2" x2="274.8" y2="443.2" stroke="#111" stroke-width="1.0"/>
<text x="250.39999999999998" y="446.296" font-size="8.6" fill="#2e2e2e" font-weight="normal" textLength="18.00" lengthAdjust="spacingAndGlyphs">1,000</text>
<line x1="272.0" y1="460.4" x2="274.8" y2="460.4" stroke="#111" stroke-width="1.0"/>
<text x="256.59999999999997" y="463.496" font-size="8.6" fill="#2e2e2e" font-weight="normal" textLength="11.80" lengthAdjust="spacingAndGlyphs">500</text>
<line x1="272.0" y1="477.5" x2="274.8" y2="477.5" stroke="#111" stroke-width="1.0"/>
<text x="264.5" y="480.596" font-size="8.6" fill="#2e2e2e" font-weight="normal" textLength="3.90" lengthAdjust="spacingAndGlyphs">0</text>
<line x1="274.8" y1="477.5" x2="430.7" y2="477.5" stroke="#111" stroke-width="1.3"/>
<circle cx="283.3" cy="378.5" r="2.45" fill="#9a1233"/>
<circle cx="283.3" cy="389.9" r="2.2" fill="#fff" stroke="#26355a" stroke-width="1.2"/>
<text x="288.8" y="381.272" font-size="7.7" fill="#2e2e2e" font-weight="normal" textLength="21.10" lengthAdjust="spacingAndGlyphs">control</text>
<text x="288.8" y="392.67199999999997" font-size="7.7" fill="#2e2e2e" font-weight="normal" textLength="23.00" lengthAdjust="spacingAndGlyphs">miR-28</text>
<circle cx="280.8" cy="477.5" r="2.2" fill="#9a1233"/>
<circle cx="284.2" cy="477.5" r="2.2" fill="#9a1233"/>
<circle cx="293.9" cy="477.5" r="2.35" fill="#fff" stroke="#283656" stroke-width="1.6"/>
<circle cx="298.8" cy="477.5" r="2.35" fill="#fff" stroke="#283656" stroke-width="1.6"/>
<rect x="320.05" y="467.55" width="8.700000000000012" height="9.95" fill="#fff" stroke="#a3163c" stroke-width="1.1"/>
<rect x="333.7" y="464.5" width="9.0" height="13.0" fill="#2c4c80"/>
<circle cx="324.5" cy="459.5" r="2.0" fill="#9a1233"/>
<circle cx="322" cy="462.5" r="2.0" fill="#9a1233"/>
<circle cx="326.5" cy="462" r="2.0" fill="#9a1233"/>
<circle cx="324" cy="465" r="2.0" fill="#9a1233"/>
<circle cx="327.5" cy="465.5" r="2.0" fill="#9a1233"/>
<circle cx="321.5" cy="467" r="2.0" fill="#9a1233"/>
<circle cx="325" cy="468" r="2.0" fill="#9a1233"/>
<circle cx="328" cy="469" r="2.0" fill="#9a1233"/>
<circle cx="322.5" cy="470.5" r="2.0" fill="#9a1233"/>
<circle cx="326" cy="471" r="2.0" fill="#9a1233"/>
<circle cx="324.8" cy="477" r="2.0" fill="#9a1233"/>
<circle cx="338.4" cy="456.7" r="2.1" fill="#fff" stroke="#26355a" stroke-width="1.1"/>
<circle cx="336.5" cy="466" r="2.1" fill="#fff" stroke="#26355a" stroke-width="1.1"/>
<circle cx="340.5" cy="466.5" r="2.1" fill="#fff" stroke="#26355a" stroke-width="1.1"/>
<circle cx="338.5" cy="469.5" r="2.1" fill="#fff" stroke="#26355a" stroke-width="1.1"/>
<line x1="332.2" y1="439.2" x2="332.2" y2="446.0" stroke="#111" stroke-width="1.0"/>
<polygon points="329.7,445.0 334.7,445.0 332.2,450.5" fill="#111"/>
<rect x="362.15000000000003" y="457.75" width="8.799999999999978" height="19.75000000000001" fill="#fff" stroke="#a3163c" stroke-width="1.1"/>
<rect x="376.1" y="457.0" width="9.599999999999966" height="20.5" fill="#2c4c80"/>
<circle cx="366.3" cy="436.6" r="2.0" fill="#9a1233"/>
<circle cx="363.6" cy="445.9" r="2.0" fill="#9a1233"/>
<circle cx="368.8" cy="446.6" r="2.0" fill="#9a1233"/>
<circle cx="366.3" cy="454.3" r="2.0" fill="#9a1233"/>
<circle cx="363.6" cy="459.0" r="2.0" fill="#9a1233"/>
<circle cx="368.6" cy="459.6" r="2.0" fill="#9a1233"/>
<circle cx="366.0" cy="461.8" r="2.0" fill="#9a1233"/>
<circle cx="364.0" cy="464.6" r="2.0" fill="#9a1233"/>
<circle cx="368.2" cy="465.2" r="2.0" fill="#9a1233"/>
<circle cx="366.2" cy="468.2" r="2.0" fill="#9a1233"/>
<circle cx="365.0" cy="470.5" r="2.0" fill="#9a1233"/>
<circle cx="380.6" cy="452.7" r="2.1" fill="#fff" stroke="#26355a" stroke-width="1.1"/>
<circle cx="377.9" cy="457.9" r="2.1" fill="#fff" stroke="#26355a" stroke-width="1.1"/>
<circle cx="383.4" cy="458.1" r="2.1" fill="#fff" stroke="#26355a" stroke-width="1.1"/>
<circle cx="380.6" cy="460.5" r="2.1" fill="#fff" stroke="#26355a" stroke-width="1.1"/>
<circle cx="379.5" cy="463" r="2.1" fill="#fff" stroke="#26355a" stroke-width="1.1"/>
<circle cx="382.5" cy="462" r="2.1" fill="#fff" stroke="#26355a" stroke-width="1.1"/>
<circle cx="380.5" cy="466" r="2.1" fill="#fff" stroke="#26355a" stroke-width="1.1"/>
<rect x="403.65000000000003" y="419.85" width="9.499999999999966" height="57.64999999999999" fill="#fff" stroke="#a3163c" stroke-width="1.1"/>
<rect x="417.3" y="435.7" width="10.099999999999966" height="41.80000000000001" fill="#2c4c80"/>
<circle cx="408.3" cy="383.1" r="2.0" fill="#9a1233"/>
<circle cx="406.7" cy="399.7" r="2.0" fill="#9a1233"/>
<circle cx="409.2" cy="402.9" r="2.0" fill="#9a1233"/>
<circle cx="408" cy="404.9" r="2.0" fill="#9a1233"/>
<circle cx="409.8" cy="416.0" r="2.0" fill="#9a1233"/>
<circle cx="407.6" cy="421.0" r="2.0" fill="#9a1233"/>
<circle cx="406.3" cy="419.2" r="2.0" fill="#9a1233"/>
<circle cx="408.1" cy="430.6" r="2.0" fill="#9a1233"/>
<circle cx="405.5" cy="431.9" r="2.0" fill="#9a1233"/>
<circle cx="412.5" cy="436.8" r="2.0" fill="#9a1233"/>
<circle cx="410.7" cy="438.9" r="2.0" fill="#9a1233"/>
<circle cx="405.9" cy="443.6" r="2.0" fill="#9a1233"/>
<circle cx="419.5" cy="421.2" r="2.1" fill="#fff" stroke="#26355a" stroke-width="1.1"/>
<circle cx="426.8" cy="422.7" r="2.1" fill="#fff" stroke="#26355a" stroke-width="1.1"/>
<circle cx="424.6" cy="425.2" r="2.1" fill="#fff" stroke="#26355a" stroke-width="1.1"/>
<circle cx="419.5" cy="431.1" r="2.1" fill="#fff" stroke="#26355a" stroke-width="1.1"/>
<circle cx="419.8" cy="436.6" r="2.1" fill="#fff" stroke="#26355a" stroke-width="1.1"/>
<circle cx="420.8" cy="438.5" r="2.1" fill="#fff" stroke="#26355a" stroke-width="1.1"/>
<circle cx="426.1" cy="437.9" r="2.1" fill="#fff" stroke="#26355a" stroke-width="1.1"/>
<circle cx="425.2" cy="445.1" r="2.1" fill="#fff" stroke="#26355a" stroke-width="1.1"/>
<circle cx="418.6" cy="449.6" r="2.1" fill="#fff" stroke="#26355a" stroke-width="1.1"/>
<circle cx="421.2" cy="450.5" r="2.1" fill="#fff" stroke="#26355a" stroke-width="1.1"/>
<line x1="389.6" y1="409.5" x2="389.6" y2="416.7" stroke="#111" stroke-width="1.0"/>
<polygon points="387.1,415.7 392.1,415.7 389.6,421.2" fill="#111"/>
<circle cx="414.0" cy="373.5" r="1.2" fill="#222"/>
<circle cx="420.6" cy="373.5" r="1.2" fill="#222"/>
<polyline points="411.1,376.9 424,376.9 424,398.7" fill="none" stroke="#111" stroke-width="1.35"/>
<text x="288.25" y="487.996" font-size="8.6" fill="#2e2e2e" font-weight="normal" textLength="3.90" lengthAdjust="spacingAndGlyphs">0</text>
<text x="329.75" y="487.996" font-size="8.6" fill="#2e2e2e" font-weight="normal" textLength="3.90" lengthAdjust="spacingAndGlyphs">8</text>
<text x="370.0" y="487.996" font-size="8.6" fill="#2e2e2e" font-weight="normal" textLength="7.60" lengthAdjust="spacingAndGlyphs">10</text>
<text x="411.09999999999997" y="487.996" font-size="8.6" fill="#2e2e2e" font-weight="normal" textLength="7.60" lengthAdjust="spacingAndGlyphs">12</text>
<text x="343.8" y="502.0" font-size="10.0" fill="#2e2e2e" font-weight="normal" textLength="19.10" lengthAdjust="spacingAndGlyphs">Days</text>
<g transform="translate(242.5,467.8) rotate(-90)"><text x="0" y="0" font-size="10.0" fill="#2e2e2e" textLength="79.07" lengthAdjust="spacingAndGlyphs">Tumor volume (mm</text><text x="79.37" y="-3.60" font-size="6.80" fill="#2e2e2e" textLength="3.98" lengthAdjust="spacingAndGlyphs">3</text><text x="83.45" y="0" font-size="10.0" fill="#2e2e2e" textLength="3.15" lengthAdjust="spacingAndGlyphs">)</text></g>
<rect x="0.6" y="0.65" width="518.2" height="512.3" fill="none" stroke="#000" stroke-width="1.3"/>
<rect x="518.6" y="0" width="1.4" height="514" fill="#000"/>
<rect x="0" y="512.1" width="520" height="1.9" fill="#000"/>
</svg>
</body></html>
